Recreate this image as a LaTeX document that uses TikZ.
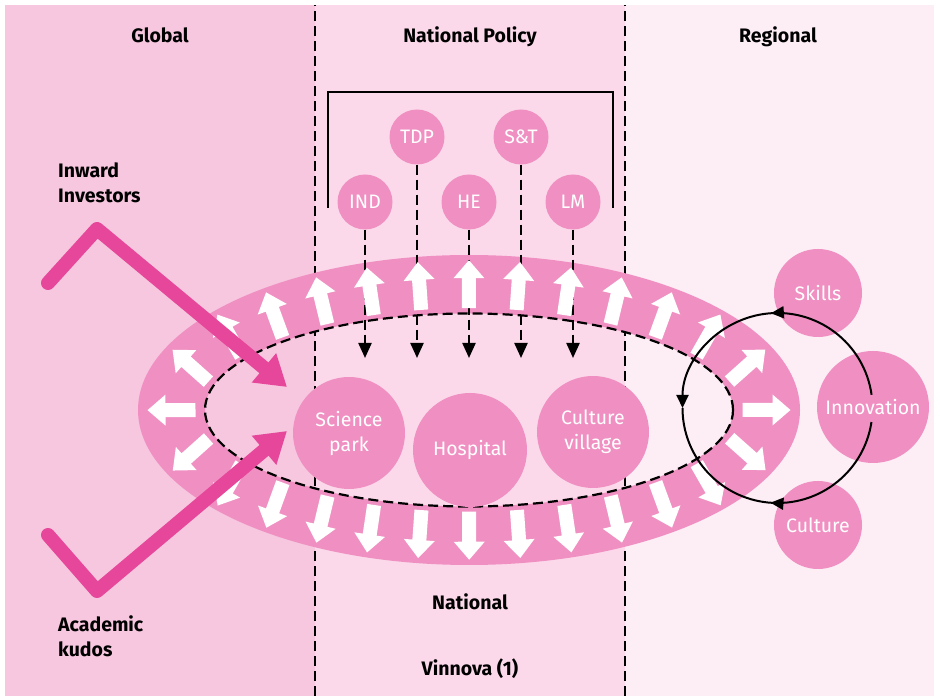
\documentclass[tikz,border=0pt]{standalone}
\usepackage{fontspec}
\setmainfont{Fira Sans}
\usetikzlibrary{arrows.meta,decorations.markings}
\definecolor{globalbg}{HTML}{F7C6DF}
\definecolor{nationalbg}{HTML}{FBD9EA}
\definecolor{regionalbg}{HTML}{FDEDF5}
\definecolor{ringpink}{HTML}{F090C2}
\definecolor{pushpink}{HTML}{E6479A}
\tikzset{
	heading/.style={font=\fontsize{19.5}{25}\selectfont\bfseries,text=black,inner sep=0pt},
	blob/.style={circle,fill=ringpink,text=white,inner sep=0pt,minimum size=#1,align=center,font=\fontsize{19.5}{25}\selectfont},
	dashline/.style={dash pattern=on 10pt off 5pt,line width=2.2pt},
	policyarrow/.style={dashline,-{Triangle[length=15pt,width=13pt]}},
	pusharrow/.style={draw=pushpink,line width=14pt,line cap=round,line join=round,-{Triangle[length=30pt,width=36pt]}},
	cycleline/.style={line width=2pt,postaction={decorate},decoration={markings,mark=at position 0.5 with {\arrow{Triangle[length=13pt,width=12pt]}}}},
	outarrows/.style={decorate,decoration={markings,mark=between positions 0 and 0.99 step 0.035714 with {\fill[white] (-7pt,24pt) -- (7pt,24pt) -- (7pt,-6pt) -- (15.5pt,-6pt) -- (0pt,-24pt) -- (-15.5pt,-6pt) -- (-7pt,-6pt) -- cycle;}}}
}
\begin{document}
\begin{tikzpicture}[x=1pt,y=1pt]
	\useasboundingbox (0,0) rectangle (940,696);
	\fill[white] (0,0) rectangle (940,696);
	\fill[globalbg] (5,0) rectangle (315,691);
	\fill[nationalbg] (315,0) rectangle (625,691);
	\fill[regionalbg] (625,0) rectangle (934,691);
	\draw[dashline] (315,0) -- (315,691);
	\draw[dashline] (625,0) -- (625,691);
	
	\node[heading,anchor=base] (global) at (160,653) {Global};
	\node[heading,anchor=base] (policy) at (470,653) {National Policy};
	\node[heading,anchor=base] (regional) at (778,653) {Regional};
	\node[heading,anchor=base] (national) at (470,86) {National};
	\node[heading,anchor=base] (vinnova) at (470,20) {Vinnova (1)};
	\node[heading,anchor=north west,align=left] (investors) at (58,533) {Inward\\Investors};
	\node[heading,anchor=north west,align=left] (kudos) at (58,81) {Academic\\kudos};
	
	\draw[line width=1.6pt] (328,488) -- (328,604) -- (613,604) -- (613,488);
	
	\fill[ringpink,even odd rule] (469,286) ellipse [x radius=331,y radius=155] (469,286) ellipse [x radius=264,y radius=96.5];
	\draw[dashline] (469,286) ellipse [x radius=264,y radius=96.5];
	
	\coordinate (drop) at (0,338);
	\foreach \name/\txt/\x/\y in {IND/IND/365/494,TDP/TDP/417/559,HE/HE/469/494,ST/S\&T/521/559,LM/LM/573/494}{
		\node[blob=55pt] (\name) at (\x,\y) {\txt};
		\draw[policyarrow] (\name.south) -- (\name |- drop);
	}
	
	\path[outarrows] (469,286) ellipse [x radius=297.5,y radius=125.75];
	
	\node[blob=112pt] (science) at (349,263) {Science\\park};
	\node[blob=114pt] (hospital) at (470,246) {Hospital};
	\node[blob=112pt] (village) at (593,264) {Culture\\village};
	
	\coordinate (inA) at (48,413);
	\coordinate (inB) at (97,467);
	\coordinate (inTip) at (287,309);
	\coordinate (acA) at (48,161);
	\coordinate (acB) at (97,105);
	\coordinate (acTip) at (287,265);
	\draw[pusharrow] (inA) -- (inB) -- (inTip);
	\draw[pusharrow] (acA) -- (acB) -- (acTip);
	
	\node[blob=88pt] (skills) at (818,403) {Skills};
	\node[blob=112pt] (innovation) at (873,289) {Innovation};
	\node[blob=88pt] (culture) at (818,171) {Culture};
	
	\coordinate (loop) at (777.5,288);
	\draw[cycleline,-{Triangle[length=13pt,width=12pt]}] ([shift={(8:95)}]loop) arc[start angle=8,end angle=180,radius=95];
	\draw[cycleline] ([shift={(-8.5:95)}]loop) arc[start angle=-8.5,end angle=-180,radius=95];
\end{tikzpicture}
\end{document}
